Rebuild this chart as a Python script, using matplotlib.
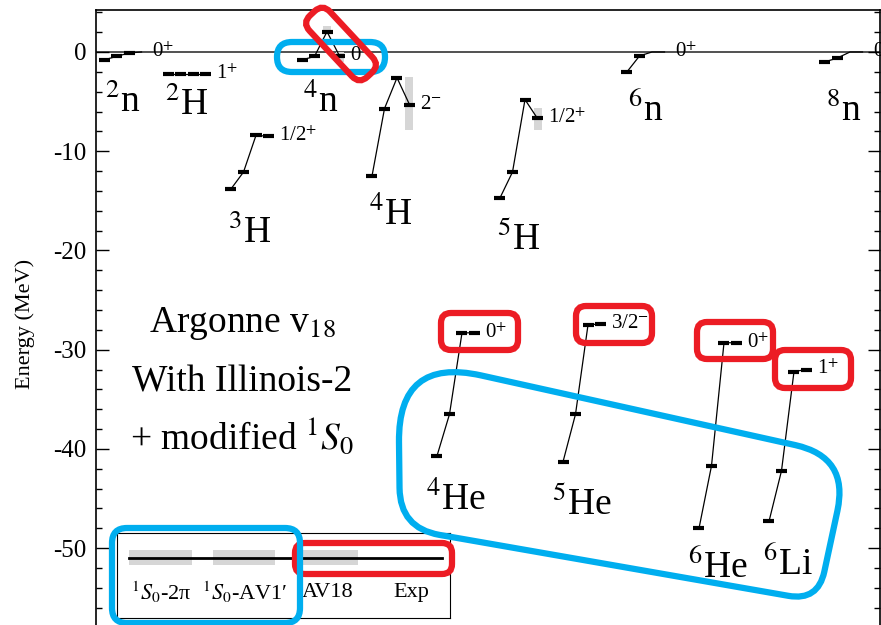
import numpy as np
import matplotlib
matplotlib.use('Agg')
import matplotlib.pyplot as plt
from matplotlib.patches import FancyBboxPatch, PathPatch
from matplotlib.path import Path
from matplotlib.transforms import Affine2D, IdentityTransform

plt.rcParams['font.family'] = ['Liberation Serif', 'DejaVu Serif']
plt.rcParams['mathtext.fontset'] = 'stix'
plt.rcParams['axes.unicode_minus'] = False

# --- data ---
models = ['$^{1}S_{0}$-2π', '$^{1}S_{0}$-AV1′', 'AV18', 'Exp']

mass = [2, 2, 3, 4, 4, 5, 6, 8, 4, 5, 6, 6]
symbol = ['n', 'H', 'H', 'n', 'H', 'H', 'n', 'n', 'He', 'He', 'He', 'Li']
spins = ['0$^{+}$', '1$^{+}$', '1/2$^{+}$', '0', '2$^{-}$', '1/2$^{+}$',
         '0$^{+}$', '0$^{+}$', '0$^{+}$', '3/2$^{-}$', '0$^{+}$', '1$^{+}$']

# energies (MeV) for the four models, in order of `models`
e_2n = [-0.8, -0.45, -0.1, 0.0]
e_2H = [-2.2, -2.2, -2.2, -2.2]
e_3H = [-13.8, -12.1, -8.4, -8.5]
e_4n = [-0.8, -0.45, 2.05, -0.4]
e_4H = [-12.5, -5.7, -2.6, -5.3]
e_5H = [-14.7, -12.1, -4.8, -6.7]
e_6n = [-2.0, -0.4, 0.0, 0.0]
e_8n = [-1.0, -0.6, 0.0, 0.0]
e_4He = [-40.7, -36.5, -28.3, -28.3]
e_5He = [-41.3, -36.5, -27.5, -27.4]
e_6He = [-48.0, -41.7, -29.3, -29.3]
e_6Li = [-47.3, -42.2, -32.2, -32.0]
energies = [e_2n, e_2H, e_3H, e_4n, e_4H, e_5H, e_6n, e_8n,
            e_4He, e_5He, e_6He, e_6Li]

# uncertainty bands: (nucleus index, model index, low, high)
bands = [(3, 2, 1.9, 2.6), (3, 3, -1.0, 0.0), (4, 3, -7.9, -2.5), (5, 3, -7.9, -5.6)]

# horizontal placement of each nucleus (first level) and label heights
x_start = [8, 72, 135, 206, 276, 404, 531, 729, 341, 467, 603, 673]
label_y = [-6.05, -6.35, -19.25, -6.05, -17.4, -19.96, -7.0, -7.0,
           -46.2, -46.7, -53.0, -52.7]

step = 12.5
half = 5.5

W, H = 881, 625
fig = plt.figure(figsize=(W / 100, H / 100), dpi=100)
ax = fig.add_axes([96 / W, -12.5 / H, 784 / W, 627.5 / H])
ax.set_xlim(0, 784)
ax.set_ylim(-59.0, 4.23)

ax.axhline(0, color='#333333', lw=1.2, zorder=1)

for i, lev in enumerate(energies):
    xs = x_start[i] + step * np.arange(4)
    ax.plot(xs, lev, color='black', lw=0.9, zorder=3)
    for x, e in zip(xs, lev):
        if e != 0.0:
            ax.hlines(e, x - half, x + half, color='black', lw=3, zorder=4)
    ax.text(xs[-1] + half + 5, lev[-1], spins[i], fontsize=15, va='center', ha='left')
    ax.text(x_start[i] + 1.5 * step, label_y[i], f'$^{{{mass[i]}}}$' + symbol[i],
            fontsize=27, ha='center', va='baseline')

for n, m, lo, hi in bands:
    xc = x_start[n] + step * m
    ax.fill_between([xc - 4, xc + 4], lo, hi, color='#d6d6d6', lw=0, zorder=2)

ax.text(146, -28.2, 'Argonne v$_{18}$', fontsize=27, ha='center', va='baseline')
ax.text(146, -34.2, 'With Illinois-2', fontsize=27, ha='center', va='baseline')
ax.text(146, -40.0, '+ modified $^{1}S_{0}$', fontsize=27, ha='center', va='baseline')

ax.set_xticks([])
ax.set_yticks(np.arange(-50, 1, 10))
ax.set_yticks(np.arange(-58, 5, 2), minor=True)
ax.tick_params(axis='y', which='both', direction='in', left=True, right=True,
               labelsize=18, pad=7)
ax.tick_params(axis='y', which='major', length=9, width=1)
ax.tick_params(axis='y', which='minor', length=4.5, width=1)
ax.set_ylabel('Energy (MeV)', fontsize=16, labelpad=13)
for s in ax.spines.values():
    s.set_linewidth(1.2)

# legend box
lg = fig.add_axes([117 / W, 1 - 618 / H, 333 / W, 85 / H])
lg.set_xlim(0, 4)
lg.set_ylim(0, 1)
lg.set_xticks([])
lg.set_yticks([])
for k, name in enumerate(models):
    if name != 'Exp':
        lg.fill_between([k + 0.15, k + 0.9], 0.62, 0.8, color='#d6d6d6', lw=0)
    lg.text(k + 0.53, 0.3, name, fontsize=16, ha='center', va='center')
lg.plot([0.15, 3.9], [0.706, 0.706], color='black', lw=2)

# annotation overlays (drawn in image pixels)
red = '#ec1c24'
blue = '#00aeef'


def rbox(x0, y0, x1, y1, color, r=10, angle=0):
    cx, cy = (x0 + x1) / 2, H - (y0 + y1) / 2
    tr = Affine2D().rotate_deg_around(cx, cy, angle)
    p = FancyBboxPatch((x0, H - y1), x1 - x0, y1 - y0,
                       boxstyle=f'round,pad=0,rounding_size={r}',
                       fill=False, ec=color, lw=4.5, transform=tr, zorder=20)
    fig.add_artist(p)


def rounded_poly(pts, radii, color):
    pts = [np.array([x, H - y], dtype=float) for x, y in pts]
    verts, codes = [], []
    n = len(pts)
    for i in range(n):
        p, a, b = pts[i], pts[i - 1], pts[(i + 1) % n]
        s = p + radii[i] * (a - p) / np.linalg.norm(a - p)
        e = p + radii[i] * (b - p) / np.linalg.norm(b - p)
        verts.append(s)
        codes.append(Path.MOVETO if i == 0 else Path.LINETO)
        verts += [p, e]
        codes += [Path.CURVE3, Path.CURVE3]
    verts.append(verts[0])
    codes.append(Path.CLOSEPOLY)
    fig.add_artist(PathPatch(Path(verts, codes), fill=False, ec=color, lw=4.5,
                             transform=IdentityTransform(), zorder=20))


rbox(277, 42, 385, 72, blue, r=15)
rbox(299, 30, 383, 58, red, r=11, angle=-47)
rbox(441, 313, 518, 350, red)
rbox(576, 306, 652, 343, red)
rbox(697, 322, 773, 359, red)
rbox(775, 350, 851, 388, red)
rbox(295, 543, 452, 574, red)
rbox(112, 528, 300, 623, blue, r=15)
rounded_poly([(398, 357), (849, 457), (818, 601), (400, 528)], [85, 55, 30, 40], blue)

fig.savefig('out.png', dpi=100)
